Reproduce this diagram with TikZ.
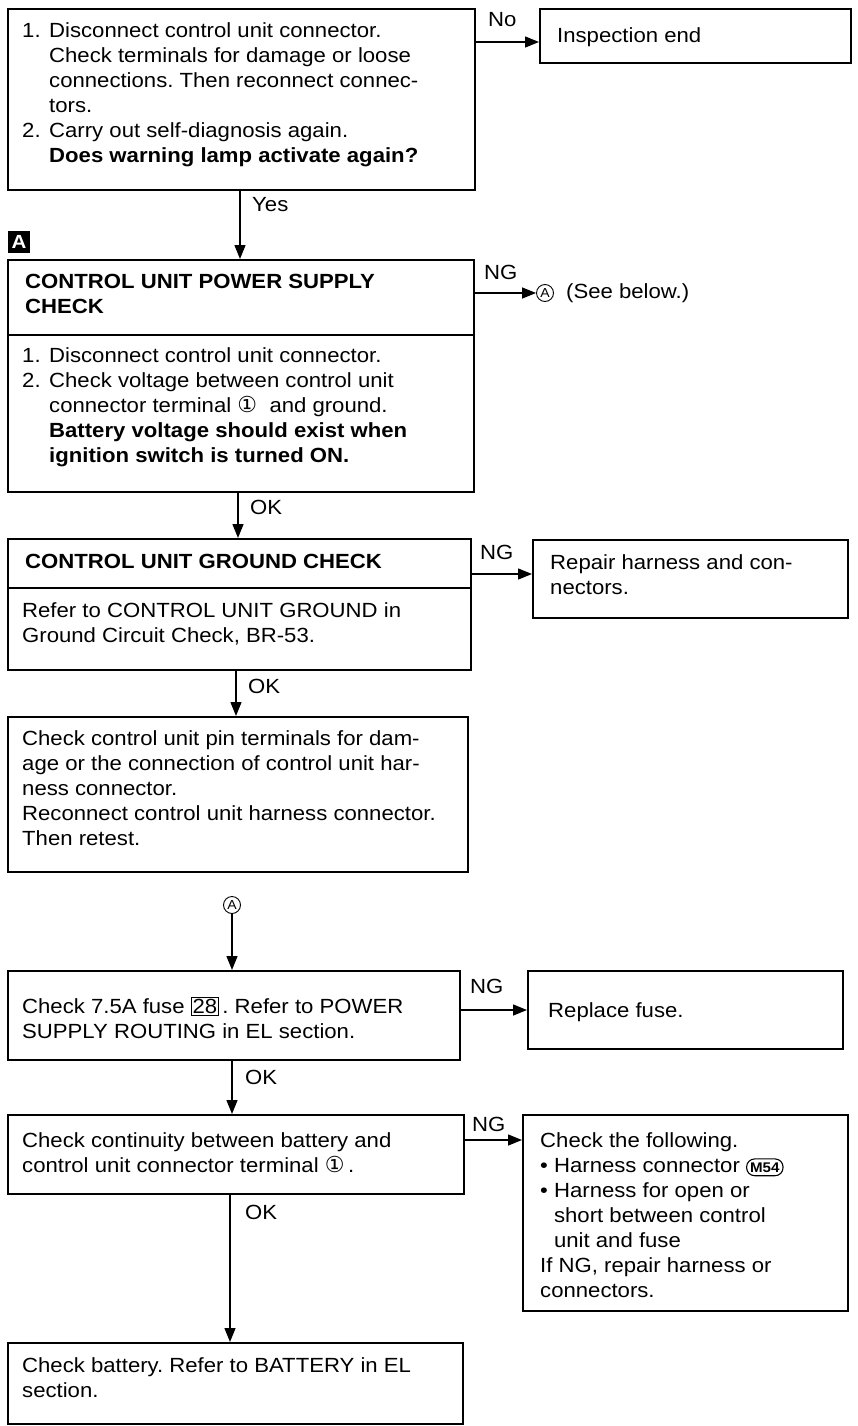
\documentclass[tikz,border=0pt]{standalone}
\usepackage{fontspec}
\setmainfont{Liberation Sans}[FakeStretch=1.08]
\newfontfamily\symfont{DejaVu Sans}
\usetikzlibrary{arrows.meta}
\frenchspacing
\newcommand\cone{{\symfont\fontsize{22}{22}\selectfont ①}}
\newcommand\fusebox[1]{{\setlength\fboxsep{1pt}\setlength\fboxrule{0.8pt}\fbox{#1}}}
\newcommand\connsym[1]{\tikz[baseline=(cs.base)]\node[draw,rounded corners=8pt,line width=1.1pt,inner xsep=3.5pt,inner ysep=3.5pt,font=\bfseries\fontsize{14}{14}\selectfont](cs){#1};}
\newcommand\itm[1]{\makebox[27pt][l]{#1}}
\begin{document}
\begin{tikzpicture}[x=1pt,y=-1pt,
  box/.style={draw,line width=1.7pt,inner sep=0pt,anchor=north west},
  txt/.style={anchor=north west,align=left,inner sep=0pt,font=\fontsize{20.5}{25}\selectfont},
  lbl/.style={inner sep=0pt,font=\fontsize{20.5}{25}\selectfont},
  arr/.style={line width=1.4pt,-{Triangle[length=14pt,width=11pt]}},
  circA/.style={circle,draw,line width=0.9pt,minimum size=17pt,inner sep=0pt,font=\fontsize{13}{13}\selectfont},
]
\useasboundingbox (0,0) rectangle (857,1426);
% boxes
\node[box,minimum width=467pt,minimum height=181pt] (b1) at (7,8) {};
\node[box,minimum width=311pt,minimum height=54pt] (insp) at (539,8) {};
\node[box,minimum width=466pt,minimum height=232pt] (b2) at (7,259) {};
\node[box,minimum width=463pt,minimum height=131pt] (b3) at (7,538) {};
\node[box,minimum width=315pt,minimum height=78pt] (rep) at (532,539) {};
\node[box,minimum width=460pt,minimum height=155pt] (b4) at (7,716) {};
\node[circA] (cA2) at (232,905) {A};
\node[box,minimum width=452pt,minimum height=89pt] (b5) at (7,970) {};
\node[box,minimum width=315pt,minimum height=78pt] (fuse) at (527,970) {};
\node[box,minimum width=456pt,minimum height=79pt] (b6) at (7,1114) {};
\node[box,minimum width=325pt,minimum height=196pt] (chk) at (522,1114) {};
\node[box,minimum width=455pt,minimum height=81pt] (b7) at (7,1342) {};
% dividers
\draw[line width=1.7pt] (b2.west |- 0,335) -- (b2.east |- 0,335);
\draw[line width=1.7pt] (b3.west |- 0,588) -- (b3.east |- 0,588);
% texts
\node[txt] (t1) at (22,22) {\itm{1.}Disconnect control unit connector.\\
\itm{}Check terminals for damage or loose\\
\itm{}connections. Then reconnect connec-\\
\itm{}tors.\\
\itm{2.}Carry out self-diagnosis again.\\
\itm{}\textbf{Does warning lamp activate again?}};
\node[txt] (ti) at (557,27) {Inspection end};
\node[txt,font=\bfseries\fontsize{20.5}{25}\selectfont] (t2h) at (25,274) {CONTROL UNIT POWER SUPPLY\\CHECK};
\node[txt] (t2) at (22,347) {\itm{1.}Disconnect control unit connector.\\
\itm{2.}Check voltage between control unit\\
\itm{}connector terminal \cone\ \ and ground.\\
\itm{}\textbf{Battery voltage should exist when}\\
\itm{}\textbf{ignition switch is turned ON.}};
\node[txt,font=\bfseries\fontsize{20.5}{25}\selectfont] (t3h) at (25,554) {CONTROL UNIT GROUND CHECK};
\node[txt] (t3) at (22,602) {Refer to CONTROL UNIT GROUND in\\Ground Circuit Check, BR-53.};
\node[txt] (tr) at (550,554) {Repair harness and con-\\nectors.};
\node[txt] (t4) at (22,730) {Check control unit pin terminals for dam-\\
age or the connection of control unit har-\\
ness connector.\\
Reconnect control unit harness connector.\\
Then retest.};
\node[txt] (t5) at (22,997) {Check 7.5A fuse \fusebox{28}\,. Refer to POWER\\SUPPLY ROUTING in EL section.};
\node[txt] (tf) at (548,1002) {Replace fuse.};
\node[txt] (t6) at (22,1132) {Check continuity between battery and\\control unit connector terminal \cone\,.};
\node[txt] (tc) at (540,1132) {Check the following.\\
\textbullet\ Harness connector \connsym{M54}\\
\textbullet\ Harness for open or\\
\hphantom{\textbullet\ }short between control\\
\hphantom{\textbullet\ }unit and fuse\\
If NG, repair harness or\\
connectors.};
\node[txt] (t7) at (22,1357) {Check battery. Refer to BATTERY in EL\\section.};
% A marker
\node[fill=black,text=white,minimum size=22pt,inner sep=0pt,font=\bfseries\fontsize{19}{19}\selectfont] (mA) at (19,242) {A};
% circled A after NG
\node[circA] (cA1) at (545,293) {A};
\node[lbl,anchor=west] (see) at (566,293) {(See below.)};
% connectors
\coordinate (x1) at (240,0);
\coordinate (x2) at (238,0);
\coordinate (x3) at (236,0);
\coordinate (x5) at (232,0);
\coordinate (x6) at (230,0);
\draw[arr] (b1.east |- 0,42) -- (insp.west |- 0,42);
\draw[arr] (b1.south -| x1) -- (b2.north -| x1);
\draw[arr] (b2.east |- cA1) -- (cA1.west);
\draw[arr] (b2.south -| x2) -- (b3.north -| x2);
\draw[arr] (b3.east |- 0,574) -- (rep.west |- 0,574);
\draw[arr] (b3.south -| x3) -- (b4.north -| x3);
\draw[arr] (cA2.south) -- (b5.north -| cA2);
\draw[arr] (b5.east |- 0,1010) -- (fuse.west |- 0,1010);
\draw[arr] (b5.south -| x5) -- (b6.north -| x5);
\draw[arr] (b6.east |- 0,1140) -- (chk.west |- 0,1140);
\draw[arr] (b6.south -| x6) -- (b7.north -| x6);
% labels
\node[lbl,anchor=west] (lno) at (488,20) {No};
\node[lbl,anchor=west] (lyes) at (252,205) {Yes};
\node[lbl,anchor=west] (lng1) at (484,272) {NG};
\node[lbl,anchor=west] (lok1) at (250,507) {OK};
\node[lbl,anchor=west] (lng2) at (480,552) {NG};
\node[lbl,anchor=west] (lok2) at (248,686) {OK};
\node[lbl,anchor=west] (lng3) at (470,986) {NG};
\node[lbl,anchor=west] (lok3) at (245,1077) {OK};
\node[lbl,anchor=west] (lng4) at (472,1124) {NG};
\node[lbl,anchor=west] (lok4) at (245,1212) {OK};
\end{tikzpicture}
\end{document}
